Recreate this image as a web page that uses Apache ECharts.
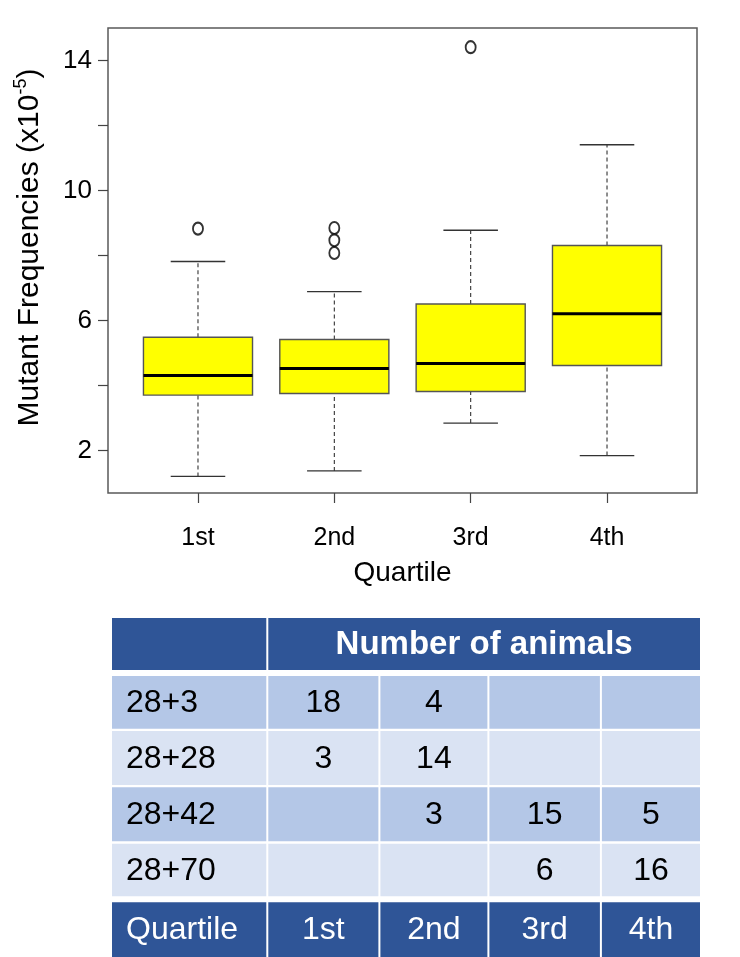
<!DOCTYPE html>
<html>
<head>
<meta charset="utf-8">
<script src="https://cdn.jsdelivr.net/npm/echarts@6/dist/echarts.min.js"></script>
<style>
html,body{margin:0;padding:0;background:#fff;}
#chart{width:740px;height:957px;}
</style>
</head>
<body>
<div id="chart"></div>
<script>
// ---- Box plot data (mutant frequencies, x10^-5) ----
const quartiles = ['1st', '2nd', '3rd', '4th'];
const whiskerLow = [1.21, 1.38, 2.85, 1.85];
const lowerQuartile = [3.71, 3.76, 3.82, 4.62];
const medianValue = [4.31, 4.53, 4.68, 6.21];
const upperQuartile = [5.49, 5.42, 6.51, 8.31];
const whiskerHigh = [7.82, 6.89, 8.78, 11.41];
const outlierQuartile = [1, 2, 2, 2, 3];
const outlierValue = [8.83, 8.85, 8.47, 8.08, 14.41];
const yTickValues = [2, 4, 6, 8, 10, 12, 14];
const yLabelValues = [2, 6, 10, 14];

// ---- Table data ----
const tableHeader = 'Number of animals';
const tableGroups = ['28+3', '28+28', '28+42', '28+70'];
const count1st = [18, 3, null, null];
const count2nd = [4, 14, 3, null];
const count3rd = [null, null, 15, 6];
const count4th = [null, null, 5, 16];
const footerLabel = 'Quartile';

// ---- layout / style constants ----
const FONT = '"Liberation Sans", Arial, sans-serif';
const DARK = '#2F5597', MID = '#B4C7E7', LIGHT = '#DAE3F3';
const colLeft = [0, 156.3, 268.4, 377.4, 489.9];
const colRight = [154.3, 266.4, 375.4, 487.9, 588];
const rowTop = [0, 58, 113, 169.3, 225.7, 284.3];
const rowBottom = [52, 110.7, 167, 223.3, 278.3, 339];

// build table cells from the arrays
const countCols = [count1st, count2nd, count3rd, count4th];
const cells = [];
cells.push({r: 0, c0: 0, c1: 1, text: '', fill: DARK, color: '#fff', align: 'left', weight: 'normal', size: 32});
cells.push({r: 0, c0: 1, c1: 5, text: tableHeader, fill: DARK, color: '#fff', align: 'center', weight: 'bold', size: 33});
tableGroups.forEach((g, i) => {
  const fill = i % 2 === 0 ? MID : LIGHT;
  cells.push({r: i + 1, c0: 0, c1: 1, text: g, fill, color: '#000', align: 'left', weight: 'normal', size: 32});
  countCols.forEach((arr, j) => {
    cells.push({r: i + 1, c0: j + 1, c1: j + 2, text: arr[i] == null ? '' : String(arr[i]), fill, color: '#000', align: 'center', weight: 'normal', size: 32});
  });
});
cells.push({r: 5, c0: 0, c1: 1, text: footerLabel, fill: DARK, color: '#fff', align: 'left', weight: 'normal', size: 32});
quartiles.forEach((q, j) => {
  cells.push({r: 5, c0: j + 1, c1: j + 2, text: q, fill: DARK, color: '#fff', align: 'center', weight: 'normal', size: 32});
});

const boxData = quartiles.map((q, i) => [i + 1, whiskerLow[i], lowerQuartile[i], medianValue[i], upperQuartile[i], whiskerHigh[i]]);
const outlierData = outlierQuartile.map((q, i) => [q, outlierValue[i]]);

const chart = echarts.init(document.getElementById('chart'), null, {renderer: 'canvas'});

const option = {
  backgroundColor: '#fff',
  animation: false,
  grid: [
    {left: 108, top: 28, width: 589, height: 465, show: true, borderColor: '#5a5a5a', borderWidth: 1.5, backgroundColor: 'transparent'},
    {left: 112, top: 618, width: 588, height: 339, show: false}
  ],
  xAxis: [
    {
      type: 'value', gridIndex: 0, min: 0.34, max: 4.66,
      splitLine: {show: false},
      axisLine: {show: false},
      axisTick: {show: true, length: 10, customValues: [1, 2, 3, 4], lineStyle: {color: '#444', width: 1.2}},
      axisLabel: {
        customValues: [1, 2, 3, 4], margin: 33,
        formatter: v => quartiles[Math.round(v) - 1],
        fontSize: 25, color: '#000', fontFamily: FONT
      },
      name: 'Quartile', nameLocation: 'middle', nameGap: 66,
      nameTextStyle: {fontSize: 28, color: '#000', fontFamily: FONT}
    },
    {type: 'value', gridIndex: 1, min: 0, max: 588, show: false}
  ],
  yAxis: [
    {
      type: 'value', gridIndex: 0, min: 0.7, max: 15,
      splitLine: {show: false},
      axisLine: {show: false},
      axisTick: {show: true, length: 10, customValues: yTickValues, lineStyle: {color: '#444', width: 1.2}},
      axisLabel: {customValues: yLabelValues, margin: 16, fontSize: 26, color: '#000', fontFamily: FONT},
      name: '{n|Mutant Frequencies (x10}{s|-5}{n|)}',
      nameLocation: 'middle', nameGap: 60,
      nameTextStyle: {
        fontFamily: FONT, color: '#000',
        padding: [0, 0, 0, 26],
        rich: {
          n: {fontSize: 30, fontFamily: FONT, color: '#000', lineHeight: 36},
          s: {fontSize: 18, fontFamily: FONT, color: '#000', verticalAlign: 'top', lineHeight: 36}
        }
      }
    },
    {type: 'value', gridIndex: 1, min: 0, max: 339, inverse: true, show: false}
  ],
  series: [
    {
      type: 'custom', xAxisIndex: 0, yAxisIndex: 0,
      data: boxData,
      encode: {x: 0, y: [1, 2, 3, 4, 5]},
      renderItem: function (params, api) {
        const x = api.value(0);
        const pLow = api.coord([x, api.value(1)]);
        const pQ1 = api.coord([x, api.value(2)]);
        const pMed = api.coord([x, api.value(3)]);
        const pQ3 = api.coord([x, api.value(4)]);
        const pHigh = api.coord([x, api.value(5)]);
        const halfBox = api.size([0.4, 0])[0];
        const halfCap = api.size([0.2, 0])[0];
        const cx = pLow[0];
        const dashStyle = {stroke: '#333', lineWidth: 1.1, lineDash: [4, 3], fill: null};
        const capStyle = {stroke: '#333', lineWidth: 1.3, fill: null};
        return {
          type: 'group',
          children: [
            {type: 'line', shape: {x1: cx, y1: pLow[1], x2: cx, y2: pQ1[1]}, style: dashStyle},
            {type: 'line', shape: {x1: cx, y1: pQ3[1], x2: cx, y2: pHigh[1]}, style: dashStyle},
            {type: 'line', shape: {x1: cx - halfCap, y1: pLow[1], x2: cx + halfCap, y2: pLow[1]}, style: capStyle},
            {type: 'line', shape: {x1: cx - halfCap, y1: pHigh[1], x2: cx + halfCap, y2: pHigh[1]}, style: capStyle},
            {type: 'rect', shape: {x: cx - halfBox, y: pQ3[1], width: 2 * halfBox, height: pQ1[1] - pQ3[1]},
              style: {fill: '#FFFF00', stroke: '#555', lineWidth: 1.4}},
            {type: 'line', shape: {x1: cx - halfBox, y1: pMed[1], x2: cx + halfBox, y2: pMed[1]},
              style: {stroke: '#000', lineWidth: 3}}
          ]
        };
      }
    },
    {
      type: 'scatter', xAxisIndex: 0, yAxisIndex: 0,
      data: outlierData,
      symbol: 'emptyCircle', symbolSize: [10, 12],
      itemStyle: {color: '#000', borderColor: '#000', borderWidth: 1.3}
    },
    {
      type: 'custom', xAxisIndex: 1, yAxisIndex: 1,
      data: cells.map(c => [c.c0, c.r]),
      encode: {x: 0, y: 1},
      clip: false,
      renderItem: function (params, api) {
        const c = cells[params.dataIndex];
        const tl = api.coord([colLeft[c.c0], rowTop[c.r]]);
        const br = api.coord([colRight[c.c1 - 1], rowBottom[c.r]]);
        const tx = c.align === 'left' ? tl[0] + 14 : (tl[0] + br[0]) / 2;
        return {
          type: 'group',
          children: [
            {type: 'rect', shape: {x: tl[0], y: tl[1], width: br[0] - tl[0], height: br[1] - tl[1]}, style: {fill: c.fill}},
            {type: 'text', style: {
              text: c.text, x: tx, y: (tl[1] + br[1]) / 2 + 1,
              align: c.align, verticalAlign: 'middle',
              fill: c.color, fontSize: c.size, fontWeight: c.weight, fontFamily: FONT
            }}
          ]
        };
      }
    }
  ]
};
chart.setOption(option);
</script>
</body>
</html>
